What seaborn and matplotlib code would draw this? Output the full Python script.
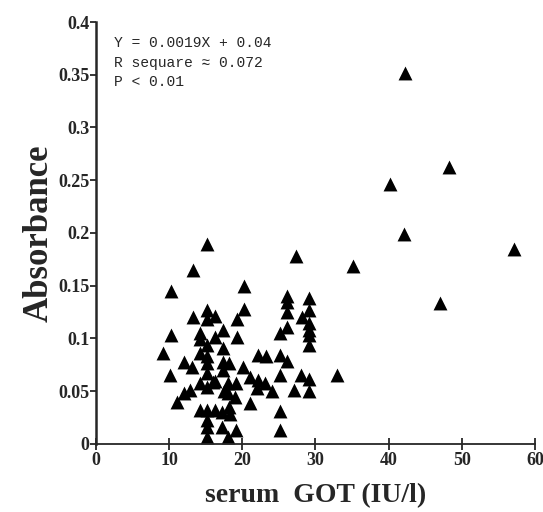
import pandas as pd
import matplotlib
matplotlib.use("Agg")
import matplotlib.pyplot as plt
import seaborn as sns

# serum GOT (IU/l) vs absorbance
got_outliers = [42.3, 40.2, 48.2, 42.1, 57.2, 35.1, 47.0, 32.9]
abs_outliers = [0.352, 0.246, 0.263, 0.199, 0.185, 0.169, 0.134, 0.065]

got_left = [15.2, 13.2, 10.3, 15.1, 13.2, 16.3, 15.1, 17.3, 14.2, 10.2,
            16.3, 14.2, 15.1, 17.4, 9.1, 14.2, 15.1, 12.0, 13.1, 17.3,
            17.3, 10.1, 15.1, 14.2, 16.0, 15.1, 12.8, 12.0, 11.1, 14.2,
            15.1, 16.3, 17.2, 15.1, 15.1, 17.2, 15.1, 15.1, 16.3]
abs_left = [0.190, 0.165, 0.145, 0.127, 0.120, 0.121, 0.118, 0.108, 0.105, 0.103,
            0.101, 0.099, 0.094, 0.091, 0.086, 0.086, 0.083, 0.078, 0.073, 0.078,
            0.070, 0.065, 0.067, 0.058, 0.059, 0.054, 0.051, 0.048, 0.040, 0.032,
            0.032, 0.032, 0.030, 0.023, 0.016, 0.016, 0.007, 0.077, 0.060]

got_right = [27.3, 20.2, 26.1, 29.1, 26.1, 26.1, 29.1, 20.2, 28.1, 29.1,
             19.3, 26.1, 25.1, 29.1, 29.1, 19.3, 29.1, 22.1, 23.2, 25.1,
             26.1, 18.2, 20.1, 25.1, 28.0, 29.1, 21.0, 22.1, 23.1, 18.0,
             19.1, 22.0, 24.0, 27.0, 29.1, 18.0, 19.0, 21.0, 18.3, 25.1,
             19.1, 25.1, 18.0, 18.2, 17.5]
abs_right = [0.178, 0.150, 0.140, 0.138, 0.135, 0.125, 0.127, 0.128, 0.120, 0.115,
             0.118, 0.111, 0.105, 0.108, 0.103, 0.101, 0.094, 0.084, 0.083, 0.084,
             0.079, 0.077, 0.073, 0.065, 0.065, 0.062, 0.063, 0.061, 0.058, 0.058,
             0.058, 0.053, 0.050, 0.051, 0.050, 0.048, 0.044, 0.039, 0.028, 0.031,
             0.013, 0.013, 0.007, 0.035, 0.050]

x_ticks = [0, 10, 20, 30, 40, 50, 60]
y_ticks = [0, 0.05, 0.1, 0.15, 0.2, 0.25, 0.3, 0.35, 0.4]
y_labels = ["0", "0.05", "0.1", "0.15", "0.2", "0.25", "0.3", "0.35", "0.4"]
stats_text = "Y = 0.0019X + 0.04\nR sequare \u2248 0.072\nP < 0.01"

df = pd.DataFrame({
    "got": got_outliers + got_left + got_right,
    "absorbance": abs_outliers + abs_left + abs_right,
})

sns.set_style("ticks")
plt.rcParams["font.family"] = ["Liberation Serif", "DejaVu Serif"]

fig = plt.figure(figsize=(5.43, 5.12), dpi=100)
ax = fig.add_axes([0.177, 0.133, 0.808, 0.824])

sns.scatterplot(data=df, x="got", y="absorbance", marker="^", color="black",
                s=100, linewidth=0, ax=ax, legend=False)

ax.set_xlim(0, 60)
ax.set_ylim(0, 0.4)
ax.set_xticks(x_ticks)
ax.set_yticks(y_ticks)
ax.set_yticklabels(y_labels)
for lab in ax.get_xticklabels() + ax.get_yticklabels():
    lab.set_fontweight("bold")
    lab.set_fontsize(13)
ax.tick_params(axis="x", direction="inout", length=8, width=1.3, pad=2)
ax.tick_params(axis="y", direction="out", length=4, width=1.3, pad=1)

sns.despine(ax=ax)
ax.spines["left"].set_linewidth(1.8)
ax.spines["bottom"].set_linewidth(1.3)

ax.set_xlabel("serum  GOT (IU/l)", fontsize=20, fontweight="bold", labelpad=10)
ax.set_ylabel("Absorbance", fontsize=25, fontweight="bold", labelpad=2)

ax.text(0.04, 0.966, stats_text, transform=ax.transAxes, va="top", ha="left",
        family=["Liberation Mono", "DejaVu Sans Mono"], fontsize=10.5,
        linespacing=1.5)

fig.savefig("out.png", dpi=100)
